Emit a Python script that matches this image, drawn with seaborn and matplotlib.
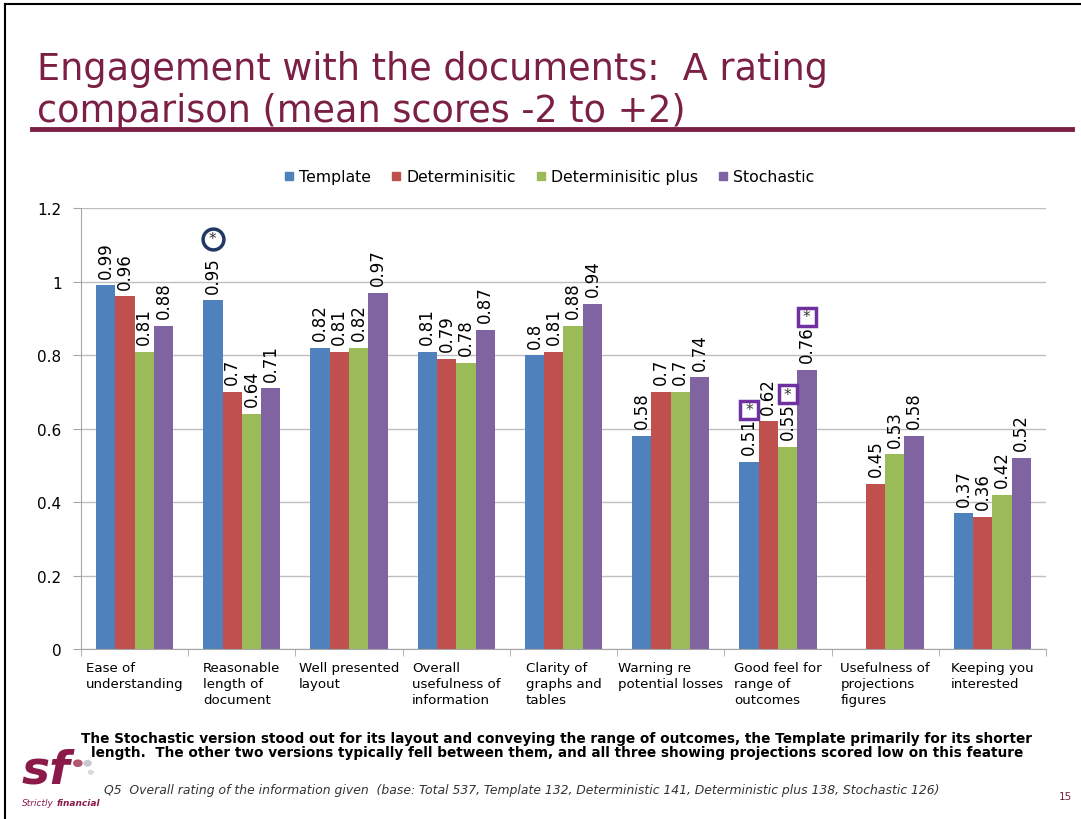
import matplotlib
matplotlib.use("Agg")
import matplotlib.pyplot as plt
from matplotlib.patches import Circle
from matplotlib.lines import Line2D
import numpy as np
import pandas as pd
import seaborn as sns

# chart values
categories = ["Ease of\nunderstanding", "Reasonable\nlength of\ndocument", "Well presented\nlayout",
              "Overall\nusefulness of\ninformation", "Clarity of\ngraphs and\ntables",
              "Warning re\npotential losses", "Good feel for\nrange of\noutcomes",
              "Usefulness of\nprojections\nfigures", "Keeping you\ninterested"]
series = ["Template", "Determinisitic", "Determinisitic plus", "Stochastic"]
template = [0.99, 0.95, 0.82, 0.81, 0.80, 0.58, 0.51, np.nan, 0.37]
deterministic = [0.96, 0.70, 0.81, 0.79, 0.81, 0.70, 0.62, 0.45, 0.36]
det_plus = [0.81, 0.64, 0.82, 0.78, 0.88, 0.70, 0.55, 0.53, 0.42]
stochastic = [0.88, 0.71, 0.97, 0.87, 0.94, 0.74, 0.76, 0.58, 0.52]
colors = ["#4F81BD", "#C0504D", "#9BBB59", "#8064A2"]

rows = []
for name, vals in zip(series, [template, deterministic, det_plus, stochastic]):
    for cat, v in zip(categories, vals):
        rows.append({"category": cat, "series": name, "value": v})
df = pd.DataFrame(rows)

maroon = "#7B1F45"

fig = plt.figure(figsize=(10.81, 8.2), dpi=100)
ax = fig.add_axes([0.0749, 0.2073, 0.8927, 0.5374])

sns.barplot(data=df, x="category", y="value", hue="series", hue_order=series,
            palette=colors, width=0.72, gap=0, saturation=1, ax=ax, legend=False)

ax.set_ylim(0, 1.2)
ax.set_yticks([0, 0.2, 0.4, 0.6, 0.8, 1.0, 1.2])
ax.set_yticklabels(["0", "0.2", "0.4", "0.6", "0.8", "1", "1.2"], fontsize=11)
ax.set_xlim(-0.5, len(categories) - 0.5)
ax.set_xlabel("")
ax.set_ylabel("")
ax.grid(axis="y", color="#BFBFBF", linewidth=1)
ax.set_axisbelow(True)
for s in ["top", "right"]:
    ax.spines[s].set_visible(False)
for s in ["left", "bottom"]:
    ax.spines[s].set_color("#A6A6A6")
ax.tick_params(axis="y", length=6, color="#A6A6A6", pad=8)
ax.set_xticks(np.arange(len(categories) + 1) - 0.5, minor=True)
ax.tick_params(axis="x", which="minor", length=5, color="#A6A6A6")
ax.tick_params(axis="x", which="major", length=0, labelbottom=False)

# category labels: block centred on the slot, lines left aligned
for i, cat in enumerate(categories):
    ax.text(i, -0.032, cat, ha="center", va="top", multialignment="left", fontsize=9.6,
            linespacing=1.32, transform=ax.transData, clip_on=False)

# value labels above each bar
for cont in ax.containers:
    for bar in cont.patches:
        if bar is None:
            continue
        h = bar.get_height()
        if np.isnan(h):
            continue
        ax.annotate(f"{h:g}", (bar.get_x() + bar.get_width() / 2, h), xytext=(0, 5.5),
                    textcoords="offset points", rotation=90, ha="center", va="bottom",
                    fontsize=12)

# significance markers
bw = 0.72 / 4
def xpos(cat_i, s_i):
    return cat_i - 0.36 + bw * (s_i + 0.5)

ax.plot([xpos(1, 0)], [1.117], marker="o", ms=15, mfc="none", mec="#1F3864", mew=2.5,
        clip_on=False)
ax.text(xpos(1, 0), 1.117, "*", ha="center", va="center", fontsize=11, color="#333333")
for ci, si, yv in [(6, 0, 0.651), (6, 2, 0.694), (6, 3, 0.905)]:
    ax.plot([xpos(ci, si)], [yv], marker="s", ms=12.5, mfc="none", mec="#7030A0", mew=2.5)
    ax.text(xpos(ci, si), yv, "*", ha="center", va="center", fontsize=11, color="#333333")

# legend
handles = [Line2D([], [], marker="s", linestyle="", markersize=5.5, color=c) for c in colors]
fig.legend(handles, series, loc="center", bbox_to_anchor=(0.508, 0.783), ncol=4,
           frameon=False, fontsize=11.3, handlelength=0.6, handletextpad=0.35,
           columnspacing=1.3)

# title and rule
fig.text(0.034, 0.915, "Engagement with the documents:  A rating", fontsize=26.3,
         color=maroon, va="center")
fig.text(0.034, 0.864, "comparison (mean scores -2 to +2)", fontsize=26.3,
         color=maroon, va="center")
fig.add_artist(Line2D([0.03, 0.992], [0.841, 0.841], color=maroon, linewidth=3.5))

# slide border
fig.add_artist(Line2D([0.005, 0.005], [0.0, 0.994], color="black", linewidth=1.5))
fig.add_artist(Line2D([0.005, 1.0], [0.994, 0.994], color="black", linewidth=1.5))

# commentary and footnote
fig.text(0.515, 0.090, "The Stochastic version stood out for its layout and conveying the range of outcomes, "
         "the Template primarily for its shorter\nlength.  The other two versions typically fell between them, "
         "and all three showing projections scored low on this feature",
         ha="center", va="center", fontsize=9.8, fontweight="bold", linespacing=1.05)
fig.text(0.096, 0.036, "Q5  Overall rating of the information given  (base: Total 537, Template 132, "
         "Deterministic 141, Deterministic plus 138, Stochastic 126)",
         ha="left", va="center", fontsize=8.9, style="italic", color="#333333")
fig.text(0.986, 0.028, "15", ha="center", va="center", fontsize=7.5, color=maroon)

# logo
fig.text(0.042, 0.060, "sf", fontsize=34, fontweight="bold", style="italic", color="#8B1A4A",
         ha="center", va="center")
fig.add_artist(Circle((0.072, 0.068), 0.0038, color="#B0566F", transform=fig.transFigure))
fig.add_artist(Circle((0.081, 0.068), 0.0032, color="#C8C8D0", transform=fig.transFigure))
fig.add_artist(Circle((0.084, 0.057), 0.0022, color="#D8D8DD", transform=fig.transFigure))
fig.text(0.020, 0.020, "Strictly", fontsize=6.5, style="italic", color="#8B1A4A", va="center")
fig.text(0.052, 0.020, "financial", fontsize=6.5, style="italic", fontweight="bold",
         color="#8B1A4A", va="center")

fig.savefig("out.png", dpi=100)
